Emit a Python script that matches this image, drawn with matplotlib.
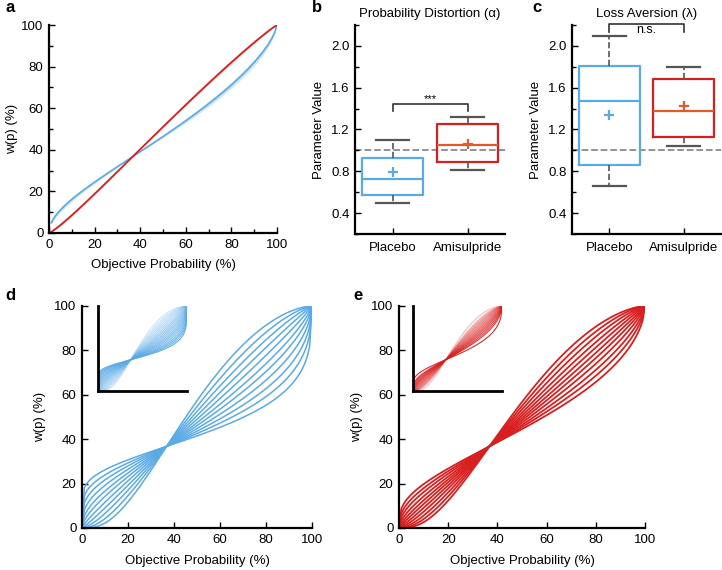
import numpy as np
import matplotlib
matplotlib.use('Agg')
import matplotlib.pyplot as plt
from matplotlib.ticker import MultipleLocator

plt.rcParams['font.family'] = ['Liberation Sans', 'DejaVu Sans']

# --- data ---
# panel a: Prelec weighting parameter of the group mean curves (+ band edges)
a_alpha_placebo = 0.72
a_band_placebo = [0.68, 0.76]
a_alpha_amisulpride = 1.08
a_band_amisulpride = [1.06, 1.10]

# panel b / c: box plot summaries (Placebo, Amisulpride)
groups = ['Placebo', 'Amisulpride']
b_whislo = [0.50, 0.81]
b_q1 = [0.575, 0.885]
b_med = [0.73, 1.047]
b_q3 = [0.932, 1.25]
b_whishi = [1.095, 1.324]
b_mean = [0.79, 1.06]

c_whislo = [0.655, 1.044]
c_q1 = [0.856, 1.133]
c_med = [1.477, 1.378]
c_q3 = [1.81, 1.68]
c_whishi = [2.096, 1.80]
c_mean = [1.34, 1.426]

# panels d / e: weighting-function parameters of the plotted curves
d_alpha = [0.35, 0.43, 0.51, 0.60, 0.70, 0.80, 0.92, 1.05, 1.20, 1.38, 1.60]
e_alpha = [0.58, 0.65, 0.72, 0.80, 0.88, 0.96, 1.05, 1.15, 1.27, 1.40, 1.55]
d_inset_alpha = [0.28, 0.32, 0.36, 0.40, 0.45, 0.50, 0.55, 0.60, 0.66, 0.72,
                 0.78, 0.85, 0.92, 1.00, 1.10, 1.20, 1.32, 1.45, 1.60, 1.80]
e_inset_alpha = [0.45, 0.58, 0.64, 0.70, 0.76, 0.82, 0.88, 0.95, 1.02, 1.10,
                 1.18, 1.26, 1.35, 1.45, 1.70]

BLUE = '#5aaae6'
RED = '#d81f1f'
ORANGE = '#e25a2a'
GRAY = '#555555'

W, H = 722, 570
p = np.linspace(0, 1, 101)


def prelec(a, x=p):
    with np.errstate(divide='ignore'):
        return np.exp(-(-np.log(x)) ** a)


def px_axes(fig, l, t, r, b):
    return fig.add_axes([l / W, 1 - b / H, (r - l) / W, (b - t) / H])


def style(ax):
    for s in ['top', 'right']:
        ax.spines[s].set_visible(False)
    for s in ['left', 'bottom']:
        ax.spines[s].set_linewidth(1.6)
    ax.tick_params(which='both', direction='in', width=1, labelsize=9.5, pad=4)
    ax.tick_params(which='major', length=4)
    ax.tick_params(which='minor', length=3)


def draw_box(ax, whislo, q1, med, q3, whishi, mean, title, colors):
    stats = []
    for i in range(len(groups)):
        stats.append(dict(whislo=whislo[i], q1=q1[i], med=med[i], q3=q3[i],
                          whishi=whishi[i], mean=mean[i], label=groups[i]))
    ax.axhline(1.0, color='#8a8a8a', ls='--', lw=1.3, zorder=0)
    res = ax.bxp(stats, positions=[1, 2], widths=0.82, capwidths=0.44,
                 showmeans=True, showfliers=False,
                 whiskerprops=dict(color=GRAY, ls='--', lw=1.2),
                 capprops=dict(color=GRAY, lw=1.6),
                 boxprops=dict(lw=1.6), medianprops=dict(lw=1.6),
                 meanprops=dict(marker='+', markersize=7, markeredgewidth=1.6))
    for i, (bc, mc) in enumerate(colors):
        res['boxes'][i].set_color(bc)
        res['medians'][i].set_color(mc)
        res['means'][i].set_markeredgecolor(mc)
    ax.set_xlim(0.5, 2.5)
    ax.set_ylim(0.2, 2.2)
    ax.yaxis.set_minor_locator(MultipleLocator(0.2))
    ax.set_yticks([0.4, 0.8, 1.2, 1.6, 2.0])
    ax.set_yticklabels(['0.4', '0.8', '1.2', '1.6', '2.0'])
    ax.set_ylabel('Parameter Value', fontsize=9.5, labelpad=4)
    ax.set_title(title, fontsize=9.5, pad=6)
    style(ax)
    ax.tick_params(axis='x', pad=6)


fig = plt.figure(figsize=(W / 100, H / 100), dpi=100)

# ---- a ----
pa = p[1:]
ax = px_axes(fig, 49, 25, 277, 233)
ax.fill_between(pa * 100, prelec(a_band_placebo[0], pa) * 100,
                prelec(a_band_placebo[1], pa) * 100, color=BLUE, alpha=0.3, lw=0)
ax.plot(pa * 100, prelec(a_alpha_placebo, pa) * 100, color=BLUE, lw=1.2)
ax.fill_between(pa * 100, prelec(a_band_amisulpride[0], pa) * 100,
                prelec(a_band_amisulpride[1], pa) * 100, color=RED, alpha=0.3, lw=0)
ax.plot(pa * 100, prelec(a_alpha_amisulpride, pa) * 100, color=RED, lw=1.3)
ax.set_xlim(0, 100)
ax.set_ylim(0, 100)
ax.xaxis.set_major_locator(MultipleLocator(20))
ax.xaxis.set_minor_locator(MultipleLocator(10))
ax.yaxis.set_major_locator(MultipleLocator(20))
ax.yaxis.set_minor_locator(MultipleLocator(10))
ax.set_xlabel('Objective Probability (%)', fontsize=9.5, labelpad=6)
ax.set_ylabel('w(p) (%)', fontsize=9.5, labelpad=2)
style(ax)

# ---- b ----
ax = px_axes(fig, 355, 25, 505, 234)
draw_box(ax, b_whislo, b_q1, b_med, b_q3, b_whishi, b_mean,
         'Probability Distortion (\u03b1)', [(BLUE, BLUE), (RED, ORANGE)])
ax.plot([1, 1, 2, 2], [1.38, 1.44, 1.44, 1.38], color='#333333', lw=1.2)
ax.text(1.5, 1.445, '***', ha='center', va='bottom', fontsize=8)

# ---- c ----
ax = px_axes(fig, 572, 25, 721, 234)
draw_box(ax, c_whislo, c_q1, c_med, c_q3, c_whishi, c_mean,
         'Loss Aversion (\u03bb)', [(BLUE, BLUE), (RED, ORANGE)])
ax.plot([1, 1, 2, 2], [2.135, 2.21, 2.21, 2.135], color='#333333', lw=1.2,
        clip_on=False)
ax.text(1.5, 2.155, 'n.s.', ha='center', va='center', fontsize=9)

# ---- d / e ----
for (l, r, col, alphas, ins_l, ins_alphas, lw) in [
        (82, 312, BLUE, d_alpha, 98, d_inset_alpha, 1.1),
        (399, 645, RED, e_alpha, 413, e_inset_alpha, 1.3)]:
    ax = px_axes(fig, l, 306, r, 528)
    for a in alphas:
        ax.plot(p * 100, prelec(a) * 100, color=col, lw=lw)
    ax.set_xlim(0, 100)
    ax.set_ylim(0, 100)
    ax.xaxis.set_major_locator(MultipleLocator(20))
    ax.yaxis.set_major_locator(MultipleLocator(20))
    ax.set_xlabel('Objective Probability (%)', fontsize=9.5, labelpad=7)
    ax.set_ylabel('w(p) (%)', fontsize=9.5, labelpad=6)
    style(ax)

    ins = px_axes(fig, ins_l, 306, ins_l + 89, 391)
    op = np.linspace(0.95, 0.3, len(ins_alphas))
    for a, o in zip(ins_alphas, op):
        ins.plot(p, prelec(a), color=col, lw=0.8, alpha=o)
    ins.set_xlim(0, 1)
    ins.set_ylim(0, 1)
    ins.set_xticks([])
    ins.set_yticks([])
    for s in ['top', 'right']:
        ins.spines[s].set_visible(False)
    for s in ['left', 'bottom']:
        ins.spines[s].set_linewidth(2)
    ins.patch.set_alpha(0)

# panel letters
for letter, x, y in [('a', 5, 8), ('b', 312, 8), ('c', 532, 8),
                     ('d', 5, 295), ('e', 353, 295)]:
    fig.text(x / W, 1 - y / H, letter, fontsize=12, fontweight='bold',
             ha='left', va='center')

fig.savefig('out.png', dpi=100)
